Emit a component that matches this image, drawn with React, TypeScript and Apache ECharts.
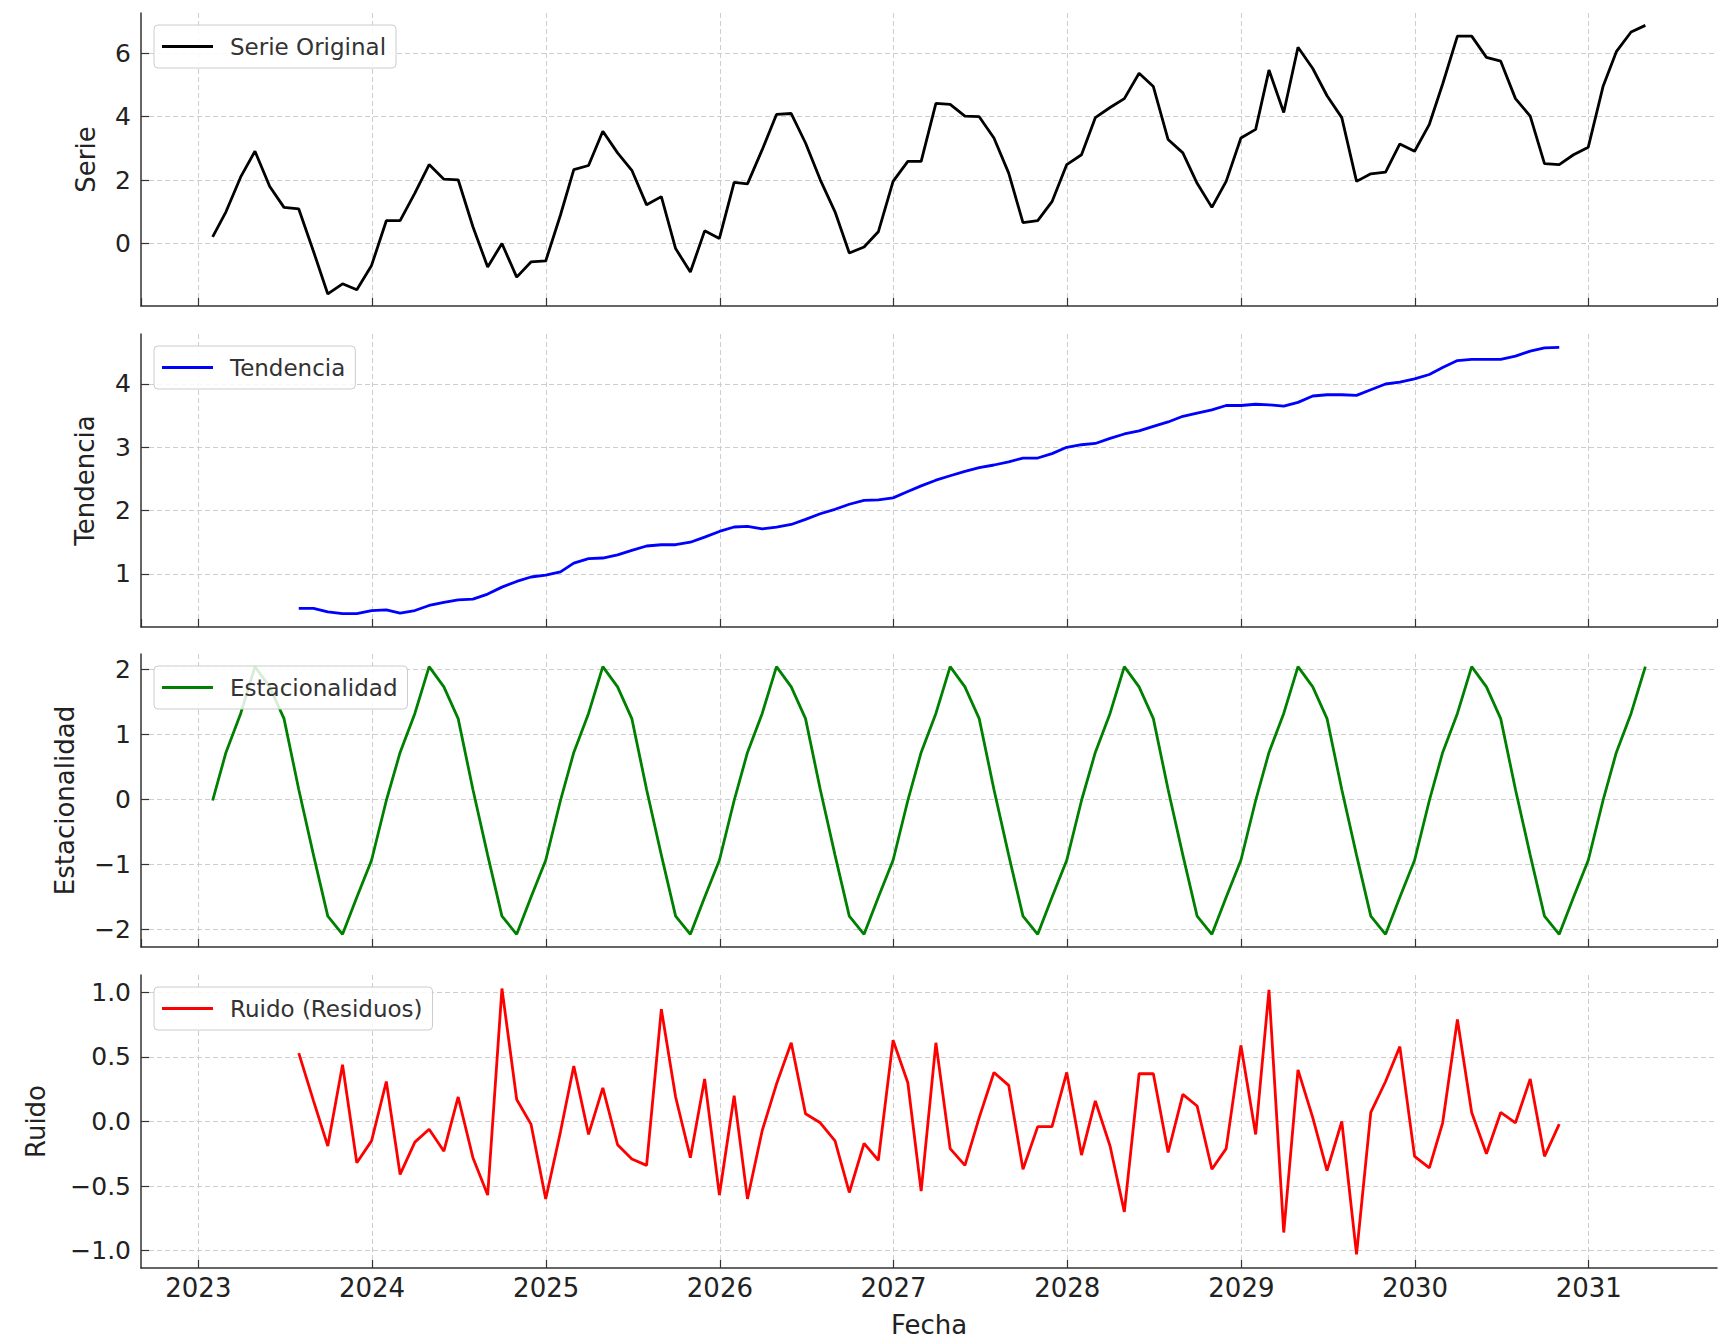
import React, { useEffect, useRef } from "react";
import * as echarts from "echarts";

// ---- Data (monthly, month-end dates starting Jan 2023) ----
const START_YEAR = 2023;
const N_MONTHS = 100;
const TREND_OFFSET = 6; // trend / residuals start 6 months in

const serieOriginal = [
  0.21, 1.0, 2.1, 2.91, 1.8, 1.14, 1.09, -0.25, -1.59, -1.27, -1.46, -0.69,
  0.72, 0.72, 1.59, 2.49, 2.03, 2.01, 0.53, -0.74, 0.0, -1.06, -0.58, -0.55,
  0.9, 2.33, 2.46, 3.54, 2.86, 2.31, 1.22, 1.48, -0.16, -0.9, 0.4, 0.16,
  1.93, 1.88, 2.96, 4.07, 4.1, 3.17, 2.01, 1.0, -0.3, -0.11, 0.37, 1.96,
  2.59, 2.59, 4.42, 4.39, 4.02, 4.0, 3.33, 2.22, 0.66, 0.72, 1.32, 2.49,
  2.8, 3.97, 4.29, 4.57, 5.37, 4.95, 3.28, 2.86, 1.9, 1.14, 1.96, 3.33,
  3.6, 5.47, 4.13, 6.19, 5.52, 4.66, 3.97, 1.96, 2.2, 2.25, 3.14, 2.91,
  3.76, 5.03, 6.54, 6.54, 5.87, 5.75, 4.57, 4.02, 2.52, 2.49, 2.8, 3.04,
  4.95, 6.05, 6.67, 6.88,
];

const tendencia = [
  0.455, 0.455, 0.4, 0.37, 0.37, 0.42,
  0.43, 0.38, 0.42, 0.5, 0.55, 0.59, 0.6, 0.68, 0.79, 0.88, 0.95, 0.98,
  1.03, 1.17, 1.24, 1.25, 1.3, 1.37, 1.44, 1.46, 1.46, 1.5, 1.58, 1.67,
  1.74, 1.75, 1.71, 1.74, 1.78, 1.86, 1.95, 2.02, 2.1, 2.16, 2.17, 2.2,
  2.3, 2.39, 2.48, 2.55, 2.62, 2.68, 2.72, 2.77, 2.83, 2.83, 2.9, 3.0,
  3.04, 3.06, 3.14, 3.21, 3.26, 3.33, 3.4, 3.49, 3.54, 3.59, 3.66, 3.66,
  3.68, 3.67, 3.65, 3.71, 3.81, 3.83, 3.83, 3.82, 3.91, 4.0, 4.03, 4.08,
  4.15, 4.26, 4.37, 4.39, 4.39, 4.39, 4.44, 4.52, 4.57, 4.58,
];

const estacionalidad = [
  -0.02, 0.72, 1.32, 2.04, 1.73, 1.24, 0.15, -0.86, -1.8, -2.08, -1.51, -0.94,
  -0.02, 0.72, 1.32, 2.04, 1.73, 1.24, 0.15, -0.86, -1.8, -2.08, -1.51, -0.94,
  -0.02, 0.72, 1.32, 2.04, 1.73, 1.24, 0.15, -0.86, -1.8, -2.08, -1.51, -0.94,
  -0.02, 0.72, 1.32, 2.04, 1.73, 1.24, 0.15, -0.86, -1.8, -2.08, -1.51, -0.94,
  -0.02, 0.72, 1.32, 2.04, 1.73, 1.24, 0.15, -0.86, -1.8, -2.08, -1.51, -0.94,
  -0.02, 0.72, 1.32, 2.04, 1.73, 1.24, 0.15, -0.86, -1.8, -2.08, -1.51, -0.94,
  -0.02, 0.72, 1.32, 2.04, 1.73, 1.24, 0.15, -0.86, -1.8, -2.08, -1.51, -0.94,
  -0.02, 0.72, 1.32, 2.04, 1.73, 1.24, 0.15, -0.86, -1.8, -2.08, -1.51, -0.94,
  -0.02, 0.72, 1.32, 2.04,
];

const ruido = [
  0.53, 0.16, -0.19, 0.44, -0.32, -0.15,
  0.31, -0.41, -0.16, -0.06, -0.23, 0.19, -0.28, -0.57, 1.03, 0.17, -0.02, -0.6,
  -0.08, 0.43, -0.1, 0.26, -0.18, -0.29, -0.34, 0.87, 0.19, -0.28, 0.33, -0.57,
  0.2, -0.6, -0.07, 0.29, 0.61, 0.06, -0.01, -0.15, -0.55, -0.17, -0.3, 0.63,
  0.3, -0.54, 0.61, -0.21, -0.34, 0.03, 0.38, 0.28, -0.37, -0.04, -0.04, 0.38,
  -0.26, 0.16, -0.19, -0.7, 0.37, 0.37, -0.24, 0.21, 0.12, -0.37, -0.21, 0.59,
  -0.1, 1.02, -0.86, 0.4, 0.03, -0.38, 0.0, -1.03, 0.07, 0.31, 0.58, -0.27,
  -0.36, -0.01, 0.79, 0.07, -0.25, 0.07, -0.01, 0.33, -0.27, -0.02,
];

const FONT = "DejaVu Sans";

function monthEnd(i: number): number {
  return new Date(START_YEAR, i + 1, 0).getTime();
}

const dates = Array.from({ length: N_MONTHS }, (_, i) => monthEnd(i));

const panels = [
  { name: "Serie Original", yName: "Serie", data: serieOriginal, offset: 0, color: "#000000", min: -1.97, max: 7.27, dec: 0, nameGap: 42 },
  { name: "Tendencia", yName: "Tendencia", data: tendencia, offset: TREND_OFFSET, color: "#0000ff", min: 0.16, max: 4.79, dec: 0, nameGap: 43 },
  { name: "Estacionalidad", yName: "Estacionalidad", data: estacionalidad, offset: 0, color: "#008000", min: -2.275, max: 2.235, dec: 0, nameGap: 63 },
  { name: "Ruido (Residuos)", yName: "Ruido", data: ruido, offset: TREND_OFFSET, color: "#ff0000", min: -1.135, max: 1.135, dec: 1, nameGap: 92 },
];

const GRID_TOPS = [13, 334, 654, 975];
const GRID_H = 293;
const GRID_LEFT = 141;
const GRID_RIGHT = 12;

export default function App() {
  const ref = useRef<HTMLDivElement>(null);

  useEffect(() => {
    if (!ref.current) return;
    const chart = echarts.init(ref.current, undefined, { renderer: "svg" });

    const t0 = dates[0];
    const t1 = dates[dates.length - 1];
    const span = t1 - t0;
    const xMin = t0 - 0.05 * span;
    const xMax = t1 + 0.05 * span;
    const DAY = 24 * 3600 * 1000;

    const gridLine = { type: [5, 3], color: "#cdcdcd", width: 1 };

    const option: any = {
      animation: false,
      backgroundColor: "#ffffff",
      grid: GRID_TOPS.map((top) => ({
        left: GRID_LEFT,
        right: GRID_RIGHT,
        top,
        height: GRID_H,
        containLabel: false,
      })),
      legend: panels.map((p, i) => ({
        data: [p.name],
        left: 154,
        top: GRID_TOPS[i] + 12,
        orient: "horizontal",
        icon: "rect",
        itemWidth: 51,
        itemHeight: 3,
        padding: [10, 10, 10, 8],
        backgroundColor: "rgba(255,255,255,0.85)",
        borderColor: "#cccccc",
        borderWidth: 1,
        borderRadius: 4,
        selectedMode: false,
        textStyle: {
          fontSize: 23,
          fontFamily: FONT,
          color: "#333333",
          padding: [0, 0, 0, 12],
        },
      })),
      xAxis: panels.map((p, i) => ({
        type: "time",
        gridIndex: i,
        min: xMin,
        max: xMax,
        splitNumber: 9,
        minInterval: 365 * DAY,
        maxInterval: 366 * DAY,
        axisLine: { show: true, onZero: false, lineStyle: { color: "#333333", width: 1.5 } },
        axisTick: { show: true, inside: true, length: 8, lineStyle: { color: "#333333", width: 1.2 } },
        axisLabel: {
          show: i === panels.length - 1,
          fontSize: 26,
          fontFamily: FONT,
          color: "#222222",
          margin: 7,
          showMinLabel: false,
          showMaxLabel: false,
          formatter: (v: number) => String(new Date(v).getFullYear()),
        },
        splitLine: { show: true, showMinLine: false, showMaxLine: false, lineStyle: gridLine },
        name: i === panels.length - 1 ? "Fecha" : "",
        nameLocation: "middle",
        nameGap: 44,
        nameTextStyle: { fontSize: 26, fontFamily: FONT, color: "#222222" },
      })),
      yAxis: panels.map((p, i) => ({
        type: "value",
        gridIndex: i,
        min: p.min,
        max: p.max,
        splitNumber: 5,
        axisLine: { show: true, lineStyle: { color: "#333333", width: 1.5 } },
        axisTick: { show: true, inside: true, length: 8, lineStyle: { color: "#333333", width: 1.2 } },
        axisLabel: {
          fontSize: 25,
          fontFamily: FONT,
          color: "#222222",
          margin: 10,
          showMinLabel: false,
          showMaxLabel: false,
          formatter: (v: number) => v.toFixed(p.dec).replace("-", "\u2212"),
        },
        splitLine: { show: true, showMinLine: false, showMaxLine: false, lineStyle: gridLine },
        name: p.yName,
        nameLocation: "middle",
        nameRotate: 90,
        nameGap: p.nameGap,
        nameTextStyle: { fontSize: 26, fontFamily: FONT, color: "#222222" },
      })),
      series: panels.map((p, i) => ({
        type: "line",
        name: p.name,
        xAxisIndex: i,
        yAxisIndex: i,
        showSymbol: false,
        symbol: "none",
        lineStyle: { color: p.color, width: 2.8 },
        itemStyle: { color: p.color },
        data: p.data.map((v, k) => [dates[k + p.offset], v]),
      })),
    };

    chart.setOption(option);
    return () => chart.dispose();
  }, []);

  return (
    <div
      ref={ref}
      style={{ position: "absolute", left: 0, top: 0, width: 1729, height: 1339, background: "#fff" }}
    />
  );
}
